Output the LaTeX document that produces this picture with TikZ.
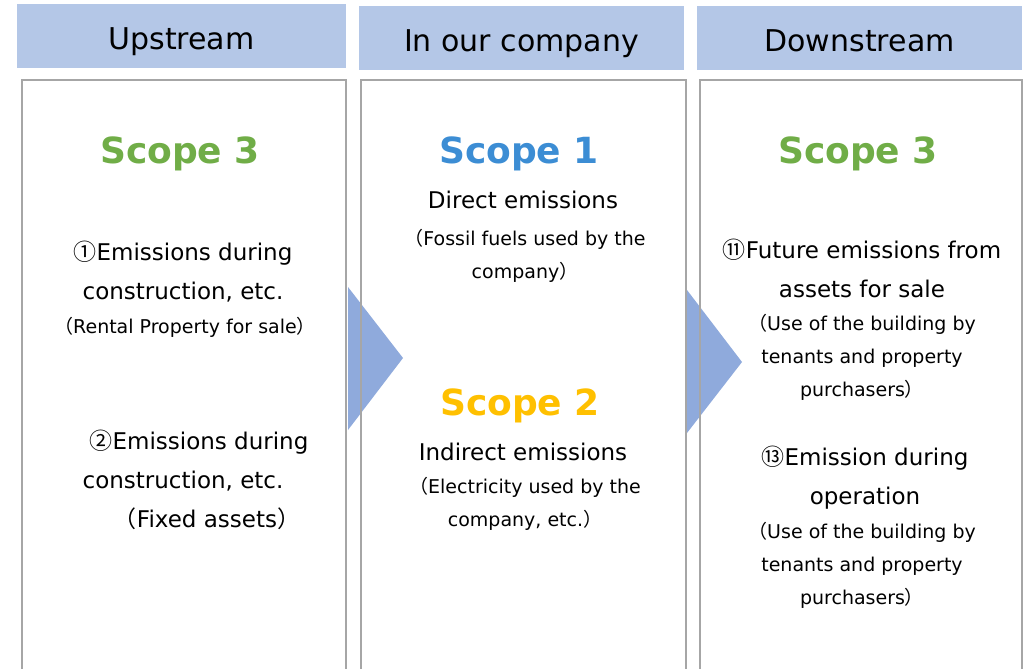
\documentclass[tikz,border=0pt]{standalone}
\usepackage{fontspec}
\setmainfont{DejaVu Sans}
\newfontfamily\jp{Noto Sans CJK JP}
\usetikzlibrary{positioning}
\definecolor{headblue}{HTML}{B4C7E7}
\definecolor{arrblue}{HTML}{8FAADC}
\definecolor{colgrey}{HTML}{A6A6A6}
\definecolor{sgreen}{HTML}{70AD47}
\definecolor{sblue}{HTML}{3C8DD4}
\definecolor{syellow}{HTML}{FFC000}
\newcommand{\jpl}{{\jp （}}
\newcommand{\jpr}{{\jp ）}}
\tikzset{
  every picture/.style={x=0.75pt, y=-0.75pt},
  head/.style={fill=headblue, minimum width=243.75pt, minimum height=48pt, inner sep=0pt, text height=20pt, text depth=0pt, font=\fontsize{22.5}{27}\selectfont},
  col/.style={draw=colgrey, line width=1.1pt},
  scope/.style={text=#1, font=\fontsize{27}{32}\selectfont\bfseries},
  main/.style={align=center, inner sep=0pt, font=\fontsize{17.25}{29.25}\selectfont},
  sub/.style={align=center, inner sep=0pt, font=\fontsize{14.25}{24.75}\selectfont},
  pointer/.style={fill=arrblue},
}

\begin{document}
\begin{tikzpicture}
  \useasboundingbox (0,0) rectangle (1027,668);
  \clip (0,0) rectangle (1027,668);
  % headers
  \node[head, minimum width=246.75pt] (hup) at (181.5,36) {Upstream};
  \node[head] (hour) at (521.5,38) {In our company};
  \node[head] (hdown) at (859.5,38) {Downstream};
  % arrows between the columns
  \fill[pointer] (348,287) -- (403,358) -- (348,430) -- cycle;
  \fill[pointer] (687,290) -- (742,362) -- (687,433) -- cycle;
  % columns
  \draw[col] (22,80) rectangle (346,690);
  \draw[col] (361,80) rectangle (686,690);
  \draw[col] (700,80) rectangle (1022,690);
  % upstream
  \node[scope=sgreen] (s3up) at (180,154) {Scope 3};
  \node[main] (up1) at (183,272) {{\jp ①}Emissions during\\construction, etc.};
  \node[sub] (up1n) at (185,327) {\jpl Rental Property for sale\jpr};
  \node[main] (up2) at (183,480) {\hspace*{24pt}{\jp ②}Emissions during\\construction, etc.\\\hspace*{36pt}\jpl Fixed assets\jpr};
  % in our company
  \node[scope=sblue] (s1) at (519,154) {Scope 1};
  \node[main] (dir) at (523,200) {Direct emissions};
  \node[sub] (dirn) at (525,256) {\jpl Fossil fuels used by the\\company\jpr};
  \node[scope=syellow] (s2) at (520,406) {Scope 2};
  \node[main] (ind) at (523,452) {Indirect emissions};
  \node[sub] (indn) at (525,504) {\jpl Electricity used by the\\company, etc.\jpr};
  % downstream
  \node[scope=sgreen] (s3down) at (858,154) {Scope 3};
  \node[main] (dn1) at (862,268) {{\jp ⑪}Future emissions from\\assets for sale};
  \node[sub] (dn1n) at (862,357) {\jpl Use of the building by\\tenants and property\\purchasers\jpr};
  \node[main] (dn2) at (865,478) {{\jp ⑬}Emission during\\operation};
  \node[sub] (dn2n) at (862,565) {\jpl Use of the building by\\tenants and property\\purchasers\jpr};
\end{tikzpicture}
\end{document}
